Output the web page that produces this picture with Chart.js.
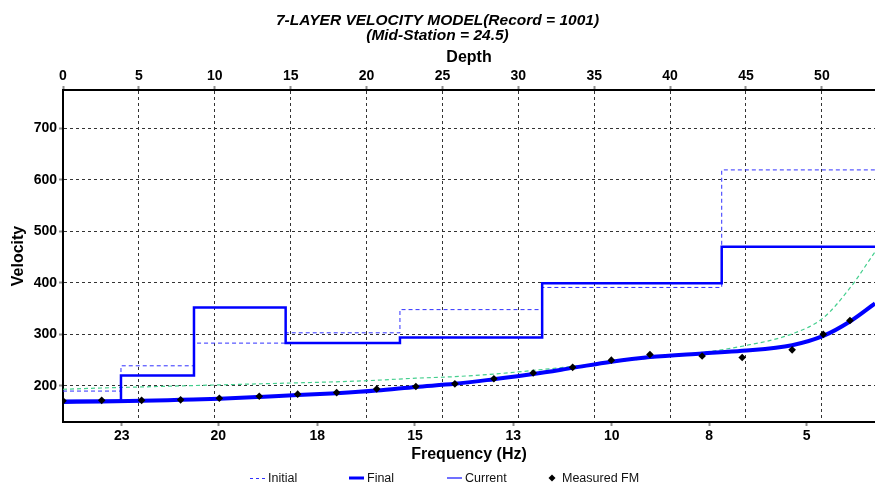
<!DOCTYPE html>
<html>
<head>
<meta charset="utf-8">
<script src="https://cdn.jsdelivr.net/npm/chart.js@4.4.1/dist/chart.umd.min.js"></script>
<style>
  body { margin: 0; background: #fff; }
  #wrap { width: 875px; height: 484px; }
</style>
</head>
<body>
<div id="wrap"><canvas id="myChart" width="875" height="484"></canvas></div>
<script>
// layer model: depth of each layer top and its velocity
const layerTop = [0, 3.82, 8.63, 14.67, 22.2, 31.57, 43.4];
const initialVel = [190, 239, 283, 303, 348, 391, 619];
const finalVel = [171, 220, 352, 283, 294, 399, 470];

// dispersion data (same horizontal scale as depth)
const measuredX = [0, 2.55, 5.18, 7.75, 10.3, 12.93, 15.46, 18.03, 20.67, 23.25, 25.82,
  28.39, 30.98, 33.58, 36.13, 38.67, 42.11, 44.75, 48.04, 50.09, 51.85];
const measuredFM = [171, 172, 172, 173, 176, 180, 184, 187, 194, 199, 204,
  214, 225, 236, 250, 261, 258, 255, 270, 300, 327];
const curveX = [...measuredX, 53.5];
const finalCurve = [169, 170, 171, 173, 175, 178.5, 182.5, 186, 191, 198, 204,
  213, 223, 235, 247, 256, 263, 268, 279, 297, 325, 360];
const initialCurve = [193.5, 196, 198, 200, 202, 204, 206, 208, 211, 215, 218,
  223, 230, 238, 246, 254, 265, 277, 301, 332, 390, 460];

// axes
const depthMax = 53.5;
const depthTicks = [0, 5, 10, 15, 20, 25, 30, 35, 40, 45, 50];
const velTicks = [200, 300, 400, 500, 600, 700];
const freqLabels = ['23', '20', '18', '15', '13', '10', '8', '5'];
const freqAt = [3.87, 10.23, 16.75, 23.19, 29.66, 36.15, 42.58, 48.99];
const legendNames = ['Initial', 'Final', 'Current', 'Measured FM'];

function hasFont(name) {
  const c = document.createElement('canvas').getContext('2d');
  c.font = '20px monospace';
  const a = c.measureText('abcdefghijMWil').width;
  c.font = '20px "' + name + '", monospace';
  return c.measureText('abcdefghijMWil').width !== a;
}
const narrow = hasFont('Liberation Sans Narrow');

function profile(vals) {
  const pts = layerTop.map((d, i) => ({x: d, y: vals[i]}));
  pts.push({x: depthMax, y: vals[vals.length - 1]});
  return pts;
}
function pairs(xs, ys) {
  return ys.map((v, i) => ({x: xs[i], y: v}));
}
function fitX(h) {
  return s => { s.height = h; s.paddingRight = 0; s.paddingLeft = 0; };
}

Chart.defaults.font.family = '"Liberation Sans", Arial, sans-serif';
Chart.defaults.color = '#000';

const gridOpts = {color: '#333', lineWidth: 1, tickColor: '#8c8c8c', tickLength: 4, tickWidth: 2};
const tickFont = {size: 14, weight: 'bold'};
const axisTitleFont = {size: 16, weight: 'bold'};

// legend under the axis, fixed columns like the original
const bottomLegend = {
  id: 'bottomLegend',
  afterDraw(chart) {
    const ctx = chart.ctx;
    const y = 478;
    const cols = [250, 349, 447, 548];
    ctx.save();
    ctx.font = '12.5px "Liberation Sans", Arial, sans-serif';
    ctx.textBaseline = 'middle';
    ctx.fillStyle = '#111';
    legendNames.forEach((name, i) => {
      const x0 = cols[i];
      ctx.beginPath();
      if (i === 0) {
        ctx.strokeStyle = '#3030ff'; ctx.lineWidth = 1; ctx.setLineDash([3, 3]);
        ctx.moveTo(x0, y + 0.5); ctx.lineTo(x0 + 15, y + 0.5); ctx.stroke();
      } else if (i === 1) {
        ctx.strokeStyle = '#0000ff'; ctx.lineWidth = 3; ctx.setLineDash([]);
        ctx.moveTo(x0, y); ctx.lineTo(x0 + 15, y); ctx.stroke();
      } else if (i === 2) {
        ctx.strokeStyle = '#4040ff'; ctx.lineWidth = 1.5; ctx.setLineDash([]);
        ctx.moveTo(x0, y); ctx.lineTo(x0 + 15, y); ctx.stroke();
      } else {
        ctx.fillStyle = '#000';
        ctx.moveTo(x0 + 4, y - 3.5); ctx.lineTo(x0 + 7.5, y); ctx.lineTo(x0 + 4, y + 3.5); ctx.lineTo(x0 + 0.5, y);
        ctx.closePath(); ctx.fill();
        ctx.fillStyle = '#111';
      }
      ctx.fillText(name, x0 + (i === 3 ? 14 : 18), y + 0.5);
    });
    ctx.restore();
  }
};

const data = {
  datasets: [
    {
      label: 'Measured FM',
      data: pairs(measuredX, measuredFM),
      showLine: false,
      pointStyle: 'rectRot',
      pointRadius: 3.8,
      pointBackgroundColor: '#000',
      pointBorderColor: '#000',
      pointBorderWidth: 0,
      xAxisID: 'x'
    },
    {
      label: 'Final',
      data: pairs(curveX, finalCurve),
      borderColor: '#0000ff',
      borderWidth: 4,
      pointRadius: 0,
      cubicInterpolationMode: 'monotone',
      xAxisID: 'x'
    },
    {
      label: 'Final profile',
      data: profile(finalVel),
      borderColor: '#0000ff',
      borderWidth: 2.5,
      stepped: true,
      pointRadius: 0,
      xAxisID: 'x'
    },
    {
      label: 'Initial',
      data: profile(initialVel),
      borderColor: '#3030ff',
      borderWidth: 1,
      borderDash: [4, 3],
      stepped: true,
      pointRadius: 0,
      xAxisID: 'x'
    },
    {
      label: 'Initial curve',
      data: pairs(curveX, initialCurve),
      borderColor: '#45cf8e',
      borderWidth: 1.2,
      borderDash: [4, 3],
      pointRadius: 0,
      cubicInterpolationMode: 'monotone',
      xAxisID: 'x'
    }
  ]
};

const config = {
  type: 'line',
  data,
  options: {
    responsive: false,
    animation: false,
    events: [],
    layout: {padding: 0, autoPadding: false},
    plugins: {
      legend: {display: false},
      tooltip: {enabled: false},
      title: {
        display: true,
        text: ['7-LAYER VELOCITY MODEL(Record = 1001)', '(Mid-Station = 24.5)'],
        font: {
          family: narrow ? '"Liberation Sans Narrow", "Liberation Sans", Arial' : '"Liberation Sans", Arial',
          size: narrow ? 18 : 15.5,
          weight: 'bold', style: 'italic', lineHeight: '15px'
        },
        color: '#000',
        padding: {top: 13, bottom: 0}
      }
    },
    scales: {
      x: {
        type: 'linear', position: 'top', min: 0, max: depthMax, bounds: 'data',
        afterBuildTicks: s => { s.ticks = depthTicks.map(v => ({value: v})); },
        afterFit: fitX(47),
        grid: gridOpts,
        border: {color: '#000', width: 2, dash: [3, 3]},
        ticks: {font: tickFont, color: '#000', padding: 1, maxRotation: 0, autoSkip: false},
        title: {display: true, text: 'Depth', font: axisTitleFont, color: '#000', padding: {top: 5, bottom: 0}}
      },
      xb: {
        type: 'linear', position: 'bottom', min: 0, max: depthMax, bounds: 'data',
        afterBuildTicks: s => { s.ticks = freqAt.map(v => ({value: v})); },
        afterFit: fitX(62),
        grid: {drawOnChartArea: false, tickColor: '#8c8c8c', tickLength: 4, tickWidth: 2},
        border: {color: '#000', width: 2},
        ticks: {font: tickFont, color: '#000', padding: 2, maxRotation: 0, autoSkip: false,
          callback: (v, i) => freqLabels[i]},
        title: {display: true, text: 'Frequency (Hz)', font: axisTitleFont, color: '#000', padding: {top: 0, bottom: 20}}
      },
      y: {
        type: 'linear', position: 'left', min: 130, max: 774, bounds: 'data',
        afterBuildTicks: s => { s.ticks = velTicks.map(v => ({value: v})); },
        afterFit: s => { s.width = 63; },
        grid: gridOpts,
        border: {color: '#000', width: 2, dash: [3, 3]},
        ticks: {font: tickFont, color: '#000', padding: 2},
        title: {display: true, text: 'Velocity', font: axisTitleFont, color: '#000', padding: {top: 8.5, bottom: 0}}
      }
    }
  },
  plugins: [bottomLegend]
};

const myChart = new Chart(document.getElementById('myChart'), config);
</script>
</body>
</html>
